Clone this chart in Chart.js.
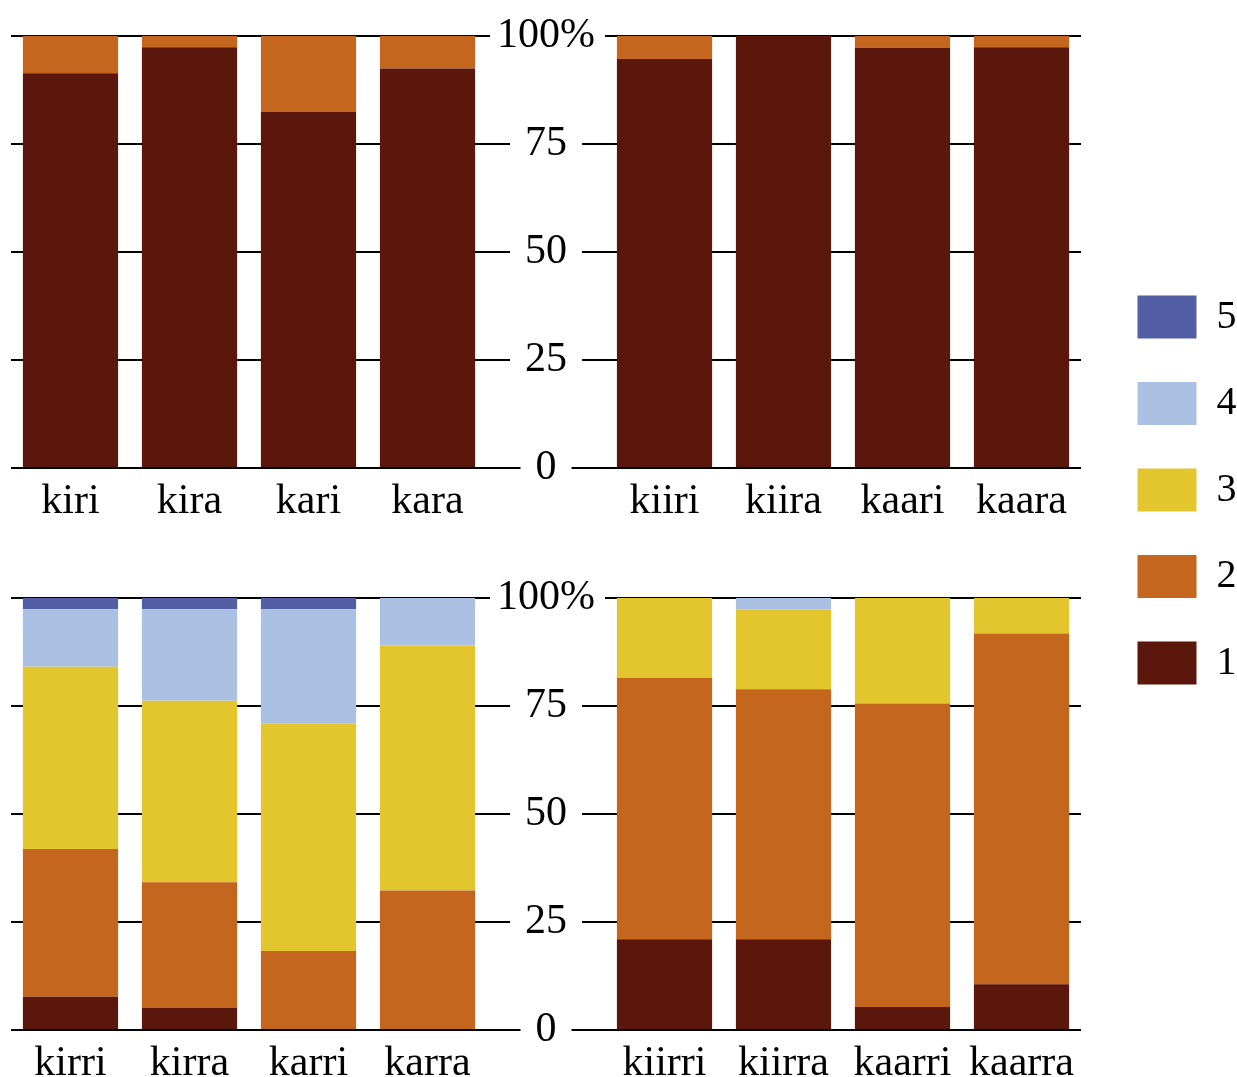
<!DOCTYPE html>
<html>
<head>
<meta charset="utf-8">
<script src="https://cdn.jsdelivr.net/npm/chart.js@4.4.0/dist/chart.umd.min.js"></script>
<style>
  html, body { margin: 0; padding: 0; background: #fff; overflow: hidden; }
  body { width: 1237px; height: 1077px; position: relative; }
  canvas { position: absolute; }
</style>
</head>
<body>
<canvas id="topLeft" width="610" height="540" style="left:0px;top:0px"></canvas>
<canvas id="topRight" width="610" height="540" style="left:490px;top:0px"></canvas>
<canvas id="bottomLeft" width="610" height="540" style="left:0px;top:562px"></canvas>
<canvas id="bottomRight" width="610" height="540" style="left:490px;top:562px"></canvas>
<canvas id="legend" width="300" height="600" style="left:1094px;top:252px"></canvas>
<script>
// categories of the four panels
const topLeftWords = ['kiri', 'kira', 'kari', 'kara'];
const topRightWords = ['kiiri', 'kiira', 'kaari', 'kaara'];
const bottomLeftWords = ['kirri', 'kirra', 'karri', 'karra'];
const bottomRightWords = ['kiirri', 'kiirra', 'kaarri', 'kaarra'];

// answer shares in %, one array per answer (1..5)
const topLeft1 = [91.4, 97.4, 82.4, 92.5];
const topLeft2 = [8.6, 2.6, 17.6, 7.5];

const topRight1 = [94.7, 100, 97.3, 97.4];
const topRight2 = [5.3, 0, 2.7, 2.6];

const bottomLeft1 = [7.7, 5.1, 0, 0];
const bottomLeft2 = [34.2, 29.1, 18.3, 32.3];
const bottomLeft3 = [42.2, 42.0, 52.7, 56.7];
const bottomLeft4 = [13.3, 21.2, 26.4, 11.0];
const bottomLeft5 = [2.6, 2.6, 2.6, 0];

const bottomRight1 = [21.0, 21.0, 5.3, 10.6];
const bottomRight2 = [60.5, 57.9, 70.3, 81.2];
const bottomRight3 = [18.5, 18.5, 24.4, 8.2];
const bottomRight4 = [0, 2.6, 0, 0];

const yTickLabels = ['0', '25', '50', '75', '100%'];
const answerLabels = ['1', '2', '3', '4', '5'];
const answerColors = ['#5b170b', '#c4661d', '#e3c52e', '#abc1e4', '#535fa4'];

Chart.defaults.font.family = "'Liberation Serif', serif";
Chart.defaults.font.size = 42;
Chart.defaults.color = '#000';

function makeDatasets(series) {
    return series.map((values, i) => ({
        label: answerLabels[i],
        data: values,
        backgroundColor: answerColors[i],
        borderWidth: 0,
        inflateAmount: 0,
        categoryPercentage: 1,
        barPercentage: 0.8
    }));
}

// left panels: y axis on the right, no labels, long ticks reaching the middle
// right panels: y axis on the left, labels with a white box over the line
function panelOptions(side) {
    const isLeft = side === 'left';
    return {
        responsive: false,
        animation: false,
        layout: {
            padding: isLeft ? { left: 11, top: 36, right: 0, bottom: 0 } : { left: 0, top: 36, right: 19, bottom: 0 }
        },
        plugins: {
            legend: { display: false },
            tooltip: { enabled: false }
        },
        scales: {
            x: {
                stacked: true,
                grid: { display: false },
                border: { display: false },
                ticks: { padding: 1, maxRotation: 0, autoSkip: false },
                afterFit: scale => { scale.height = 72; }
            },
            y: {
                stacked: true,
                min: 0,
                max: 100,
                position: isLeft ? 'right' : 'left',
                border: { display: false },
                grid: { color: '#000', lineWidth: 2, tickLength: isLeft ? 113 : 8 },
                ticks: {
                    display: !isLeft,
                    stepSize: 25,
                    padding: 2,
                    crossAlign: 'center',
                    showLabelBackdrop: true,
                    backdropColor: '#fff',
                    backdropPadding: { left: 15, right: 15, top: 0, bottom: 0 },
                    callback: value => yTickLabels[value / 25]
                },
                afterFit: scale => { scale.width = isLeft ? 123 : 115; }
            }
        }
    };
}

function drawPanel(id, words, series, side) {
    const ctx = document.getElementById(id).getContext('2d');
    return new Chart(ctx, {
        type: 'bar',
        data: { labels: words, datasets: makeDatasets(series) },
        options: panelOptions(side)
    });
}

drawPanel('topLeft', topLeftWords, [topLeft1, topLeft2], 'left');
drawPanel('topRight', topRightWords, [topRight1, topRight2], 'right');
drawPanel('bottomLeft', bottomLeftWords, [bottomLeft1, bottomLeft2, bottomLeft3, bottomLeft4, bottomLeft5], 'left');
drawPanel('bottomRight', bottomRightWords, [bottomRight1, bottomRight2, bottomRight3, bottomRight4], 'right');

// legend only chart
new Chart(document.getElementById('legend').getContext('2d'), {
    type: 'bar',
    data: { labels: [], datasets: makeDatasets(answerLabels.map(() => [])) },
    options: {
        responsive: false,
        animation: false,
        scales: { x: { display: false }, y: { display: false } },
        plugins: {
            tooltip: { enabled: false },
            legend: {
                position: 'left',
                align: 'start',
                reverse: true,
                labels: { boxWidth: 59, boxHeight: 43, padding: 43.5, color: '#000', font: { size: 40 } }
            }
        }
    }
});
</script>
</body>
</html>
